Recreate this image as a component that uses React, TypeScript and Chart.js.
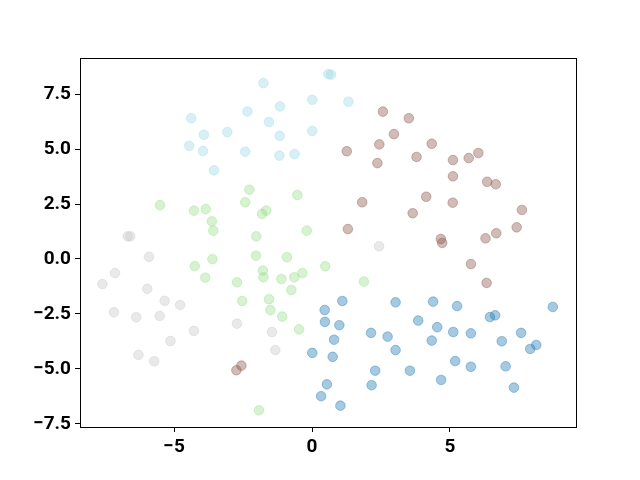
import React, { useEffect, useRef } from "react";
import { Chart, registerables } from "chart.js";

Chart.register(...registerables);

const blueX = [1.10, 3.03, 0.46, 0.47, 0.99, 2.14, 2.74, 0.80, 3.03, 0.01, 0.75, 2.29, 3.55, 0.54, 2.16, 0.33, 1.03, 4.39, 5.26, 8.73, 6.45, 6.64, 3.85, 4.54, 5.12, 5.76, 7.58, 4.34, 6.88, 7.91, 8.13, 5.19, 5.76, 7.02, 4.68, 7.32];
const blueY = [-1.91, -1.97, -2.32, -2.86, -3.01, -3.36, -3.53, -3.67, -4.14, -4.27, -4.45, -5.08, -5.08, -5.70, -5.74, -6.24, -6.67, -1.94, -2.14, -2.18, -2.64, -2.56, -2.80, -3.10, -3.32, -3.38, -3.36, -3.71, -3.74, -4.09, -3.91, -4.64, -4.90, -4.88, -5.50, -5.85];

const brownX = [3.51, 4.34, 3.79, 5.11, 5.68, 6.03, 5.11, 6.35, 6.66, 4.14, 5.10, 3.65, 7.61, 7.42, 6.68, 6.29, 4.67, 4.72, 2.57, 2.97, 2.44, 1.26, 2.37, 1.82, 1.30, 5.76, 6.33, -2.56, -2.74];
const brownY = [6.40, 5.24, 4.64, 4.50, 4.59, 4.82, 3.76, 3.51, 3.40, 2.83, 2.56, 2.08, 2.23, 1.44, 1.17, 0.94, 0.91, 0.73, 6.70, 5.68, 5.21, 4.90, 4.36, 2.58, 1.36, -0.23, -1.09, -4.85, -5.06];

const cyanX = [-1.76, 0.59, 0.69, -1.16, 0.01, 1.32, -2.34, -1.56, -1.17, 0.01, -2.42, -1.18, -0.63, -4.38, -3.92, -3.07, -4.45, -3.95, -3.55];
const cyanY = [8.00, 8.41, 8.38, 6.94, 7.24, 7.15, 6.71, 6.23, 5.60, 5.82, 4.88, 4.70, 4.77, 6.40, 5.65, 5.77, 5.15, 4.91, 4.03];

const greenX = [-2.27, -2.42, -5.51, -4.28, -3.85, -3.63, -3.58, -0.53, -1.66, -1.81, -0.19, -2.02, -4.25, -3.61, -3.87, -2.72, -2.53, -2.03, -0.91, 0.48, -1.78, -1.76, -1.11, -0.64, -0.35, 1.88, -0.75, -1.56, -1.51, -1.08, -0.47, -1.92];
const greenY = [3.15, 2.58, 2.45, 2.20, 2.27, 1.71, 1.29, 2.91, 2.20, 2.05, 1.29, 1.03, -0.32, -0.01, -0.85, -1.06, -1.91, 0.15, 0.08, -0.33, -0.53, -0.83, -0.91, -0.83, -0.64, -1.03, -1.41, -1.83, -2.32, -2.62, -3.20, -6.88];

const grayX = [-6.68, -6.59, -5.91, -7.14, -7.60, -5.97, -5.34, -4.78, -7.18, -6.37, -5.52, -2.72, -4.28, -5.13, -6.29, -5.72, 2.43, -1.45, -1.33];
const grayY = [1.03, 1.03, 0.10, -0.64, -1.14, -1.36, -1.90, -2.09, -2.42, -2.65, -2.59, -2.94, -3.27, -3.73, -4.36, -4.65, 0.58, -3.32, -4.14];

const xTicks = [-5, 0, 5];
const yTicks = [-7.5, -5.0, -2.5, 0.0, 2.5, 5.0, 7.5];

const toPts = (xs: number[], ys: number[]) => xs.map((x, i) => ({ x, y: ys[i] }));

const series = [
  { xs: blueX, ys: blueY, color: "31,119,180" },
  { xs: brownX, ys: brownY, color: "140,86,75" },
  { xs: cyanX, ys: cyanY, color: "158,218,229" },
  { xs: greenX, ys: greenY, color: "152,223,138" },
  { xs: grayX, ys: grayY, color: "199,199,199" },
];

const framePlugin = {
  id: "frame",
  afterDraw(chart: any) {
    const { ctx, chartArea } = chart;
    ctx.save();
    ctx.strokeStyle = "#000";
    ctx.lineWidth = 1;
    ctx.strokeRect(
      Math.round(chartArea.left) + 0.5,
      Math.round(chartArea.top) + 0.5,
      Math.round(chartArea.right - chartArea.left),
      Math.round(chartArea.bottom - chartArea.top)
    );
    ctx.restore();
  },
};

const minus = (s: string) => s.replace("-", "\u2212");

export default function App() {
  const ref = useRef<HTMLCanvasElement | null>(null);
  useEffect(() => {
    if (!ref.current) return;
    const font = { family: "Roboto, 'Liberation Sans', sans-serif", size: 19, weight: "bold" as const };
    const chart = new Chart(ref.current, {
      type: "scatter",
      data: {
        datasets: series.map((s) => ({
          data: toPts(s.xs, s.ys),
          backgroundColor: `rgba(${s.color},0.4)`,
          borderColor: `rgba(${s.color},0.4)`,
          borderWidth: 1,
          pointRadius: 4.8,
          pointHoverRadius: 4.8,
        })),
      },
      options: {
        responsive: false,
        animation: false,
        events: [],
        layout: { padding: { left: 0, top: 58, right: 64, bottom: 0 } },
        plugins: { legend: { display: false }, tooltip: { enabled: false } },
        scales: {
          x: {
            type: "linear",
            min: -8.41,
            max: 9.57,
            border: { display: false },
            grid: { drawOnChartArea: false, drawTicks: true, tickLength: 5, color: "#000", tickWidth: 1 },
            ticks: {
              color: "#000",
              font,
              padding: 4,
              maxRotation: 0,
              callback: (v: any) => minus(String(Math.round(Number(v)))),
            },
            afterBuildTicks: (scale: any) => {
              scale.ticks = xTicks.map((v) => ({ value: v }));
            },
            afterFit: (scale: any) => {
              scale.height = 53;
            },
          },
          y: {
            type: "linear",
            min: -7.64,
            max: 9.14,
            border: { display: false },
            grid: { drawOnChartArea: false, drawTicks: true, tickLength: 5, color: "#000", tickWidth: 1 },
            ticks: {
              color: "#000",
              font,
              padding: 4,
              callback: (v: any) => minus(Number(v).toFixed(1)),
            },
            afterBuildTicks: (scale: any) => {
              scale.ticks = yTicks.map((v) => ({ value: v }));
            },
            afterFit: (scale: any) => {
              scale.width = 80;
            },
          },
        },
      },
      plugins: [framePlugin],
    });
    return () => chart.destroy();
  }, []);
  return (
    <div style={{ position: "absolute", left: 0, top: 0, width: 640, height: 480, background: "#fff" }}>
      <canvas ref={ref} width={640} height={480} style={{ width: 640, height: 480 }} />
    </div>
  );
}
